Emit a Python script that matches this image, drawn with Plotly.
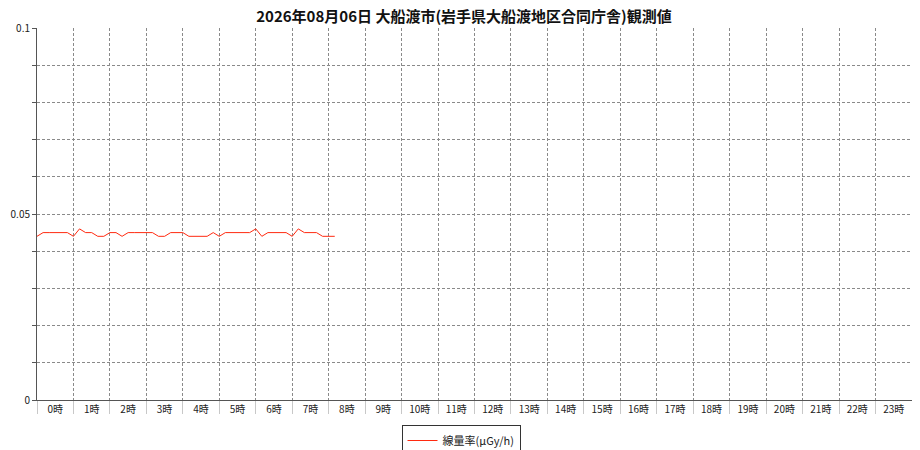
import plotly.graph_objects as go

# 10-minute readings (uGy/h) from 0:00 onward
dose = [0.044, 0.045, 0.045, 0.045, 0.045, 0.045, 0.044, 0.046, 0.045, 0.045,
        0.044, 0.044, 0.045, 0.045, 0.044, 0.045, 0.045, 0.045, 0.045, 0.045,
        0.044, 0.044, 0.045, 0.045, 0.045, 0.044, 0.044, 0.044, 0.044, 0.045,
        0.044, 0.045, 0.045, 0.045, 0.045, 0.045, 0.046, 0.044, 0.045, 0.045,
        0.045, 0.045, 0.044, 0.046, 0.045, 0.045, 0.045, 0.044, 0.044, 0.044]
hour_labels = ["%d時" % h for h in range(24)]
y_labels = ["0", "0.05", "0.1"]
y_vals = [0, 0.05, 0.1]

title = "2026年08月06日 大船渡市(岩手県大船渡地区合同庁舎)観測値"
series_name = "線量率(μGy/h)"

xs = [i / 6 for i in range(len(dose))]  # hours

fig = go.Figure()
fig.add_trace(go.Scatter(x=xs, y=dose, mode="lines", name=series_name,
                         line=dict(color="#ff2a10", width=1), showlegend=True))

# page body has an 8px margin, so the figure is sized/offset to fit
W, H = 912, 442
grid = "#8a8a8a"
fig.update_layout(
    width=W, height=H,
    margin=dict(l=29, r=8, t=20, b=50),
    paper_bgcolor="white", plot_bgcolor="white",
    font=dict(family="Noto Sans CJK JP, DejaVu Sans", size=10, color="#222"),
    title=dict(text=title, x=0.5, xanchor="center", y=1 - 3 / H, yanchor="top",
               pad=dict(t=0, b=0),
               font=dict(size=15, color="#111", weight="bold")),
    showlegend=True,
    legend=dict(orientation="h", x=(461 - 8) / W, xanchor="center", xref="container",
                y=1 - 417 / H, yanchor="top", yref="container",
                bordercolor="#333", borderwidth=1, font=dict(size=11),
                itemwidth=30, tracegroupgap=0),
    xaxis=dict(range=[0, 24], tickvals=[h + 0.5 for h in range(24)], ticktext=hour_labels,
               ticks="", showgrid=False, zeroline=False, automargin=False,
               showline=True, linecolor="#555", linewidth=1,
               minor=dict(tickvals=list(range(25)), showgrid=True, gridcolor=grid,
                          griddash="3px,2px", gridwidth=1, ticks="outside",
                          ticklen=13, tickcolor="#c8c8c8"),
               fixedrange=True),
    yaxis=dict(range=[0, 0.1], tickvals=y_vals, ticktext=y_labels,
               ticks="outside", ticklen=4, tickcolor="#555", showgrid=False,
               zeroline=False, showline=True, linecolor="#555", linewidth=1,
               automargin=False,
               minor=dict(dtick=0.01, tick0=0, showgrid=True, gridcolor=grid,
                          griddash="3px,2px", gridwidth=1, ticks="outside",
                          ticklen=4, tickcolor="#555"),
               fixedrange=True),
)

fig.write_html("out.html")
